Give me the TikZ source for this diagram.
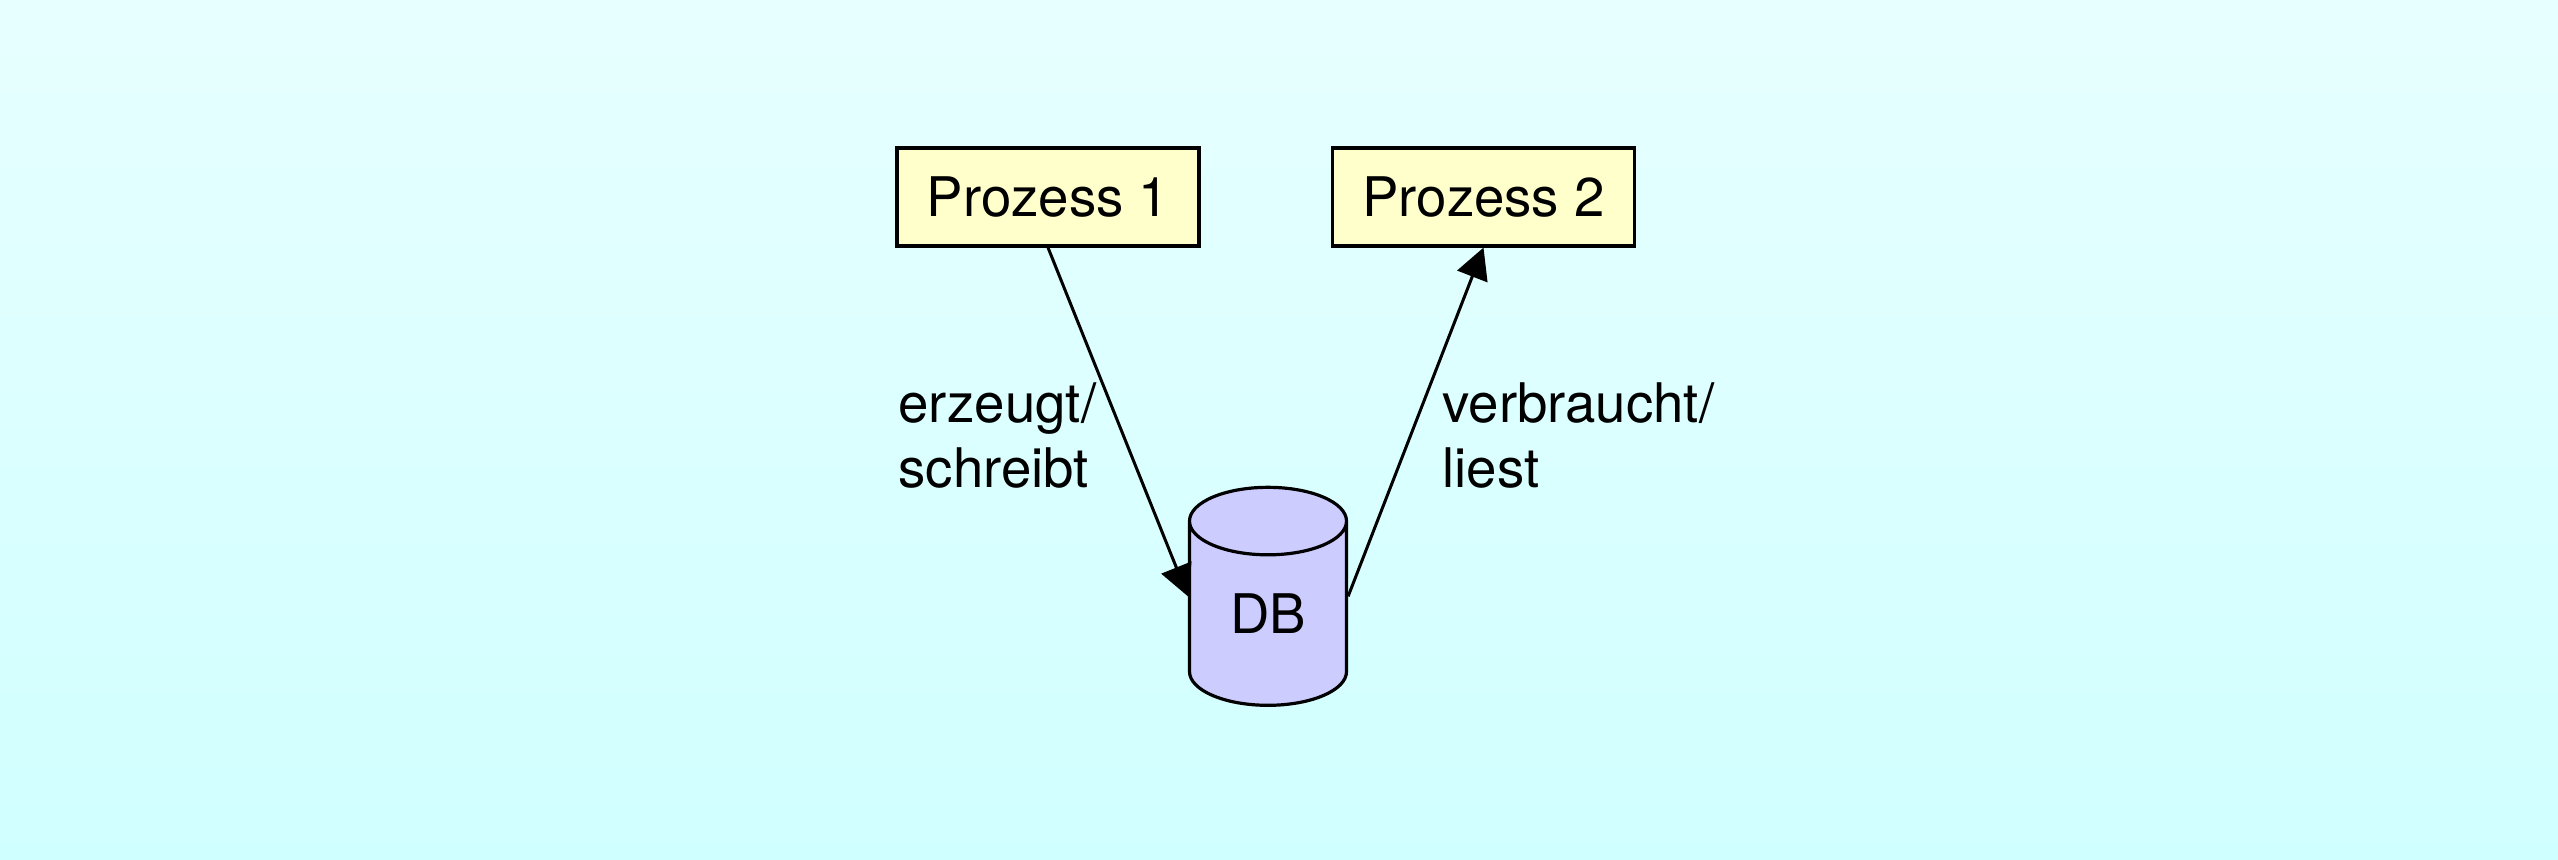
\documentclass[tikz,border=0pt]{standalone}
\usepackage{fontspec}
\setmainfont{TeX Gyre Heros}
\usetikzlibrary{arrows.meta,shapes.geometric}
\tikzset{
  prozess/.style = {draw,line width=1.6pt,fill=boxfill,inner sep=0pt,minimum width=151pt,minimum height=49pt,text depth=0pt,text height=20pt},
  dbcyl/.style = {draw,line width=1.6pt,fill=dbfill,cylinder,shape border rotate=90,shape aspect=0.89,inner sep=0pt,minimum width=78.5pt,minimum height=109pt},
  flow/.style = {-{Triangle[length=15.5pt,width=16pt]},line width=1.5pt},
  lbl/.style = {anchor=north west,align=left,inner sep=0pt}
}
\definecolor{boxfill}{HTML}{FFFFCC}
\definecolor{dbfill}{HTML}{CCCCFF}
\definecolor{bgtop}{RGB}{231,255,255}
\definecolor{bgbot}{RGB}{208,255,255}
\begin{document}
\begin{tikzpicture}[x=0.5pt,y=-0.5pt,font=\fontsize{27.3}{32.5}\selectfont]
\shade [top color=bgtop,bottom color=bgbot] (0,0) rectangle (2558,860);
\useasboundingbox (0,0) rectangle (2558,860);
\node [prozess] (p1) at (1048,197) {Prozess 1};
\node [prozess] (p2) at (1483.5,197) {Prozess 2};
\node [dbcyl] (db) at (1268,614) {DB};
\draw [flow] (p1.south) -- (db.west |- db.shape center);
\draw [flow] (db.east |- db.shape center) -- (p2.south);
\node [lbl] (l1) at (898,382) {erzeugt/\\schreibt};
\node [lbl] (l2) at (1442,382) {verbraucht/\\liest};
\end{tikzpicture}
\end{document}
